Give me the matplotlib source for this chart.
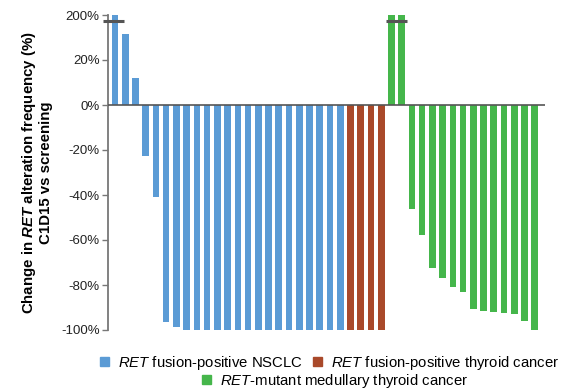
import numpy as np
import matplotlib
matplotlib.use("Agg")
import matplotlib.pyplot as plt
from matplotlib.patches import Patch

plt.rcParams["font.family"] = ["Liberation Sans", "DejaVu Sans"]
plt.rcParams["mathtext.fontset"] = "custom"
plt.rcParams["mathtext.rm"] = "Liberation Sans"
plt.rcParams["mathtext.it"] = "Liberation Sans:italic"
plt.rcParams["mathtext.bf"] = "Liberation Sans:bold"
plt.rcParams["mathtext.bfit"] = "Liberation Sans:italic:bold"

# change in RET alteration frequency (%), C1D15 vs screening, sorted per cohort
nsclc = [200, 124, 12, -22.5, -40.7, -96.3, -98.5,
         -100, -100, -100, -100, -100, -100, -100, -100,
         -100, -100, -100, -100, -100, -100, -100, -100]
thyroid = [-100, -100, -100, -100]
mtc = [200, 200, -46.2, -57.8, -72.4, -76.9, -80.9, -83.1,
       -90.7, -91.6, -92.0, -92.4, -92.9, -96.0, -100]

groups = [r"$\mathit{RET}$ fusion-positive NSCLC",
          r"$\mathit{RET}$ fusion-positive thyroid cancer",
          r"$\mathit{RET}$-mutant medullary thyroid cancer"]
colors = ["#5b9bd5", "#a9492a", "#45b64b"]

ticks = [-100, -80, -60, -40, -20, 0, 20, 200]
tick_labels = ["-100%", "-80%", "-60%", "-40%", "-20%", "0%", "20%", "200%"]

# values above 20% are squeezed onto a short broken segment
def fwd(v):
    v = np.asarray(v, dtype=float)
    return np.where(v <= 20, v, 20 + (v - 20) / 9.0)

def inv(d):
    d = np.asarray(d, dtype=float)
    return np.where(d <= 20, d, 20 + (d - 20) * 9.0)

fig = plt.figure(figsize=(5.65, 3.89), dpi=100)
ax = fig.add_axes([108 / 565, 1 - 330 / 389, (545 - 108) / 565, (330 - 15) / 389])
ax.set_yscale("function", functions=(fwd, inv))

start = 0
for vals, col in zip([nsclc, thyroid, mtc], colors):
    x = np.arange(start, start + len(vals))
    ax.bar(x, vals, width=0.65, color=col, zorder=2)
    # break marks on capped bars
    capped = x[np.array(vals) >= 200]
    if len(capped):
        lo = capped.min() - 0.5
        hi = capped.max() + 0.5
        if capped.min() == 0:
            lo, hi = -1.17, 0.88
        ax.hlines(175, lo, hi, color="#555555", lw=2.2,
                  zorder=3, clip_on=False)
    start += len(vals)

ax.axhline(0, color="#555555", lw=1.2, zorder=3)
ax.set_xlim(-0.68, 42.0)
ax.set_ylim(-100, 200)

ax.set_yticks(ticks)
ax.set_yticklabels(tick_labels, fontsize=9.5, color="#222222")
ax.yaxis.set_minor_locator(matplotlib.ticker.NullLocator())
ax.tick_params(axis="y", direction="out", length=4, width=1, color="#777777", pad=2)
ax.set_xticks([])
for s in ["top", "right", "bottom"]:
    ax.spines[s].set_visible(False)
ax.spines["left"].set_color("#777777")
ax.spines["left"].set_linewidth(1.3)

ax.set_ylabel("Change in $\\mathbfit{RET}$ alteration frequency (%)\nC1D15 vs screening",
              fontsize=10.8, fontweight="bold", linespacing=1.05, labelpad=6)

handles = [Patch(color=c) for c in colors]
fig.legend(handles[:2], groups[:2], ncol=2, loc="center",
           bbox_to_anchor=(0.584, 1 - 363 / 389), frameon=False, fontsize=10.7,
           handlelength=0.6, handleheight=0.6, handletextpad=0.6, columnspacing=0.7)
fig.legend(handles[2:], groups[2:], loc="center",
           bbox_to_anchor=(0.593, 1 - 381 / 389), frameon=False, fontsize=10.7,
           handlelength=0.6, handleheight=0.6, handletextpad=0.6)

fig.savefig("out.png", dpi=100)
